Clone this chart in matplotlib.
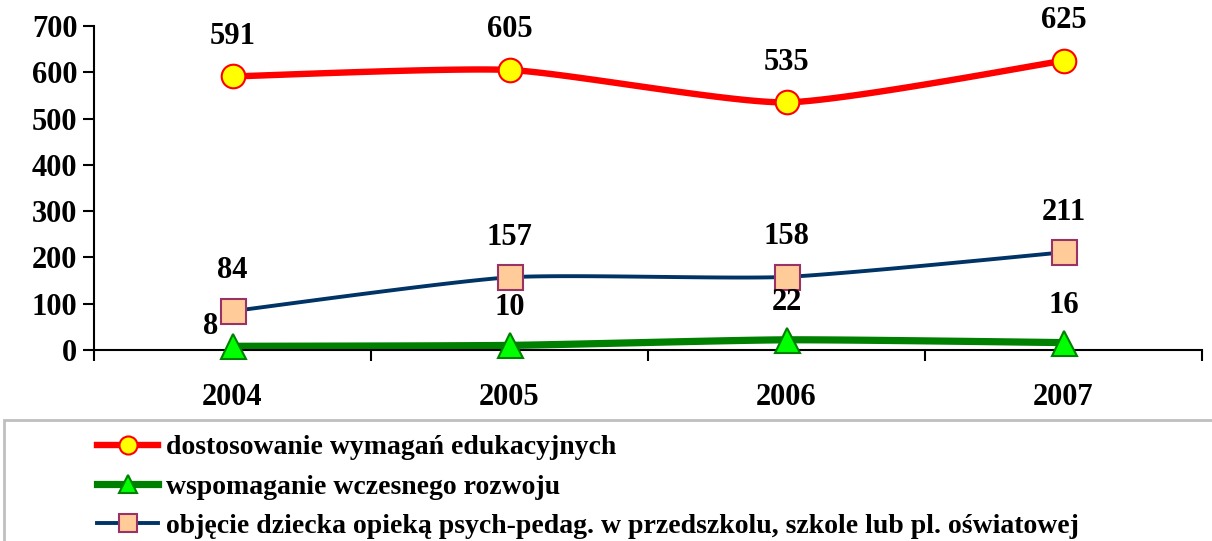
import numpy as np
import matplotlib
matplotlib.use('Agg')
import matplotlib.pyplot as plt
from matplotlib.lines import Line2D
from matplotlib.patches import Rectangle

years = ['2004', '2005', '2006', '2007']
dostosowanie = [591, 605, 535, 625]
wspomaganie = [8, 10, 22, 16]
objecie = [84, 157, 158, 211]
names = ['dostosowanie wymagań edukacyjnych',
         'wspomaganie wczesnego rozwoju',
         'objęcie dziecka opieką psych-pedag. w przedszkolu, szkole lub pl. oświatowej']

plt.rcParams['font.family'] = ['Liberation Serif', 'DejaVu Serif']
plt.rcParams['font.weight'] = 'bold'


def smooth(y, n=40):
    # Catmull-Rom curve through the points, like Excel's smoothed line
    y = np.asarray(y, float)
    x = np.arange(len(y), dtype=float)
    px = np.concatenate([[x[0]], x, [x[-1]]])
    py = np.concatenate([[y[0]], y, [y[-1]]])
    xs, ys = [], []
    t = np.linspace(0, 1, n)
    for i in range(1, len(px) - 2):
        p0, p1, p2, p3 = [np.array([px[k], py[k]]) for k in range(i - 1, i + 3)]
        m1 = (p2 - p0) / 2.0 * 0.6
        m2 = (p3 - p1) / 2.0 * 0.6
        h00 = 2*t**3 - 3*t**2 + 1
        h10 = t**3 - 2*t**2 + t
        h01 = -2*t**3 + 3*t**2
        h11 = t**3 - t**2
        pts = np.outer(h00, p1) + np.outer(h10, m1) + np.outer(h01, p2) + np.outer(h11, m2)
        xs.extend(pts[:, 0]); ys.extend(pts[:, 1])
    return np.array(xs), np.array(ys)


fig = plt.figure(figsize=(12.12, 5.41), dpi=100)
ax = fig.add_axes([94/1212, 1-350/541, (1202-94)/1212, (350-26)/541])

x = np.arange(len(years))
styles = [
    dict(data=dostosowanie, lc='#FF0000', lw=4.6, m='o', ms=17, mfc='#FFFF00', mec='#FF0000'),
    dict(data=wspomaganie, lc='#008000', lw=5.2, m='^', ms=18, mfc='#00FF00', mec='#008000'),
    dict(data=objecie, lc='#003366', lw=2.8, m='s', ms=18, mfc='#FFCC99', mec='#993366'),
]
for s in styles:
    sx, sy = smooth(s['data'])
    ax.plot(sx, sy, color=s['lc'], lw=s['lw'], solid_capstyle='butt', zorder=2)
    ax.plot(x, s['data'], ls='none', marker=s['m'], ms=s['ms'], mfc=s['mfc'],
            mec=s['mec'], mew=1.5, zorder=3, clip_on=False)

fs = 22
for i, v in enumerate(dostosowanie):
    ax.annotate(str(v), (i, v), xytext=(0, 29), textcoords='offset points',
                ha='center', va='center', fontsize=fs, fontweight='bold')
for i, v in enumerate(objecie):
    ax.annotate(str(v), (i, v), xytext=(0, 29), textcoords='offset points',
                ha='center', va='center', fontsize=fs, fontweight='bold')
for i, v in enumerate(wspomaganie):
    off = (-16, 14) if i == 0 else (0, 27)
    ax.annotate(str(v), (i, v), xytext=off, textcoords='offset points',
                ha='center', va='center', fontsize=fs, fontweight='bold')

ax.set_xlim(-0.5, 3.5)
ax.set_ylim(0, 700)
ax.set_yticks(range(0, 701, 100))
ax.set_xticks(x)
ax.set_xticklabels(years)
ax.set_xticks(np.arange(-0.5, 3.6, 1), minor=True)
ax.tick_params(axis='x', which='major', length=0, pad=24, labelsize=fs)
ax.tick_params(axis='x', which='minor', length=8, width=1.5, direction='out')
ax.tick_params(axis='y', length=8, width=1.5, direction='out', pad=4, labelsize=fs)
for lab in ax.get_xticklabels() + ax.get_yticklabels():
    lab.set_fontweight('bold')
ax.spines['top'].set_visible(False)
ax.spines['right'].set_visible(False)
ax.spines['left'].set_linewidth(1.5)
ax.spines['bottom'].set_linewidth(1.5)

fig.patches.append(Rectangle((4/1212, -0.01), 1.0, 1-420/541 + 0.01, transform=fig.transFigure,
                             fill=False, edgecolor='#BFBFBF', lw=2))

handles = [Line2D([], [], color=s['lc'], lw=s['lw'], marker=s['m'], ms=13,
                  mfc=s['mfc'], mec=s['mec'], mew=1.5) for s in styles]
fig.legend(handles, names, loc='upper left', bbox_to_anchor=(97/1212, 1-435/541),
           frameon=False, handlelength=2.2, handletextpad=0.28, borderaxespad=0,
           labelspacing=0.5, borderpad=0, prop=dict(weight='bold', size=20))

fig.savefig('out.png', dpi=100)
